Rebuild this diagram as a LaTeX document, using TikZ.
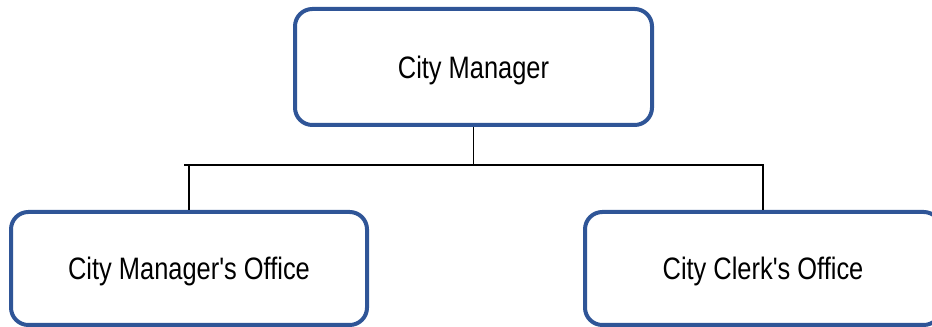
\documentclass[tikz,border=0pt]{standalone}
\usepackage{fontspec}
\newfontfamily\narrowfont[FakeStretch=0.82]{Liberation Sans}
\definecolor{boxblue}{HTML}{2F5597}
\begin{document}
\begin{tikzpicture}[x=0.75pt,y=-0.75pt,
  orgbox/.style={draw=boxblue,line width=3pt,rounded corners=13pt,fill=white,
    rectangle,minimum width=356*0.75pt,inner sep=0pt,text height=16.6pt,text depth=0pt,
    font=\narrowfont\fontsize{23.25}{28}\selectfont},
  conn/.style={draw=black,line width=1.2pt}]
\useasboundingbox (0,0) rectangle (932,327);
\clip (0,0) rectangle (932,327);
\node[orgbox,minimum height=116*0.75pt,minimum width=357*0.75pt] (top) at (473.5,67) {City Manager};
\node[orgbox,minimum height=113*0.75pt] (left) at (189,268.5) {City Manager's Office};
\node[orgbox,minimum height=113*0.75pt,minimum width=356*0.75pt] (right) at (763,268.5) {City Clerk's Office};
\coordinate (hl) at (184,165);
\coordinate (hr) at (764,165);
\draw[conn] (top.south) -- (top.south |- hl);
\draw[conn] (hl) -- (hr);
\draw[conn] (left.north) -- (left.north |- hl);
\draw[conn] (right.north) -- (right.north |- hr);
\end{tikzpicture}
\end{document}
